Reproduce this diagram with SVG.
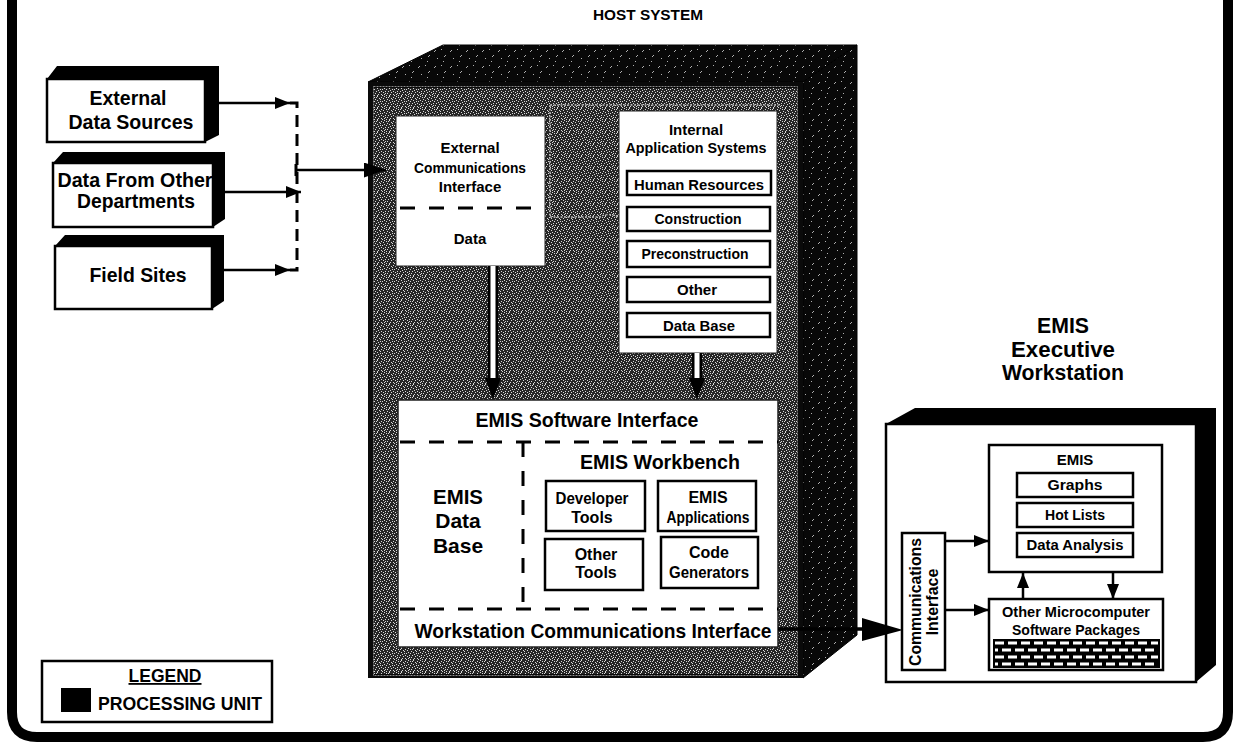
<svg xmlns="http://www.w3.org/2000/svg" width="1240" height="750" viewBox="0 0 1240 750">
<defs>
<style>
.t{font-family:"Liberation Sans",Arial,Helvetica,sans-serif;font-weight:bold;fill:#000;text-anchor:middle}
.f15{font-size:15px}.f16{font-size:16px}.f18{font-size:18px}.f20{font-size:20px}.f21{font-size:21px}.f22{font-size:22px}
.box{fill:#fff;stroke:#000;stroke-width:2.5}
.sub{fill:#fff;stroke:#000;stroke-width:2.5}
.blk{fill:#000}
.dash{fill:none;stroke:#000;stroke-width:3;stroke-dasharray:15 14}
.conn{fill:none;stroke:#000;stroke-width:2.5}
.faint{fill:none;stroke:#b4b4b4;stroke-width:1.5;stroke-dasharray:2 1.5}
</style>
<pattern id="stip" width="12" height="12" patternUnits="userSpaceOnUse">
<rect width="12" height="12" fill="#262626"/>
<path fill="#d8d8d8" d="M0 0h1v1h-1zM5 0h1v1h-1zM9 1h1v1h-1zM2 1h1v1h-1zM7 2h1v1h-1zM11 2h1v1h-1zM3 3h1v1h-1zM8 3h1v1h-1zM0 4h1v1h-1zM5 4h1v1h-1zM10 5h1v1h-1zM2 5h1v1h-1zM6 6h1v1h-1zM1 7h1v1h-1zM9 7h1v1h-1zM4 7h1v1h-1zM11 8h1v1h-1zM7 8h1v1h-1zM3 9h1v1h-1zM0 10h1v1h-1zM6 10h1v1h-1zM9 10h1v1h-1zM2 11h1v1h-1zM5 11h1v1h-1zM10 11h1v1h-1zM8 5h1v1h-1zM4 1h1v1h-1zM1 9h1v1h-1z"/>
</pattern>
<pattern id="spk" width="16" height="16" patternUnits="userSpaceOnUse">
<rect width="16" height="16" fill="#080808"/>
<path fill="#b0b0b0" d="M2 3h1v1h-1zM3 2h1v1h-1zM9 1h1v1h-1zM13 7h1v1h-1zM12 8h1v1h-1zM5 10h1v1h-1zM11 13h1v1h-1z"/>
</pattern>
<marker id="ah" markerWidth="15" markerHeight="12" refX="15" refY="6" orient="auto" markerUnits="userSpaceOnUse"><path d="M0,0 L15,6 L0,12 z" fill="#000"/></marker>
<marker id="ahm" markerWidth="22" markerHeight="15" refX="22" refY="7.5" orient="auto" markerUnits="userSpaceOnUse"><path d="M0,0 L22,7.5 L0,15 z" fill="#000"/></marker>
</defs>

<rect width="1240" height="750" fill="#fff"/>
<path d="M12,-10 V712 Q12,737 37,737 H1203 Q1228,737 1228,712 V-10" fill="none" stroke="#000" stroke-width="10"/>

<text class="t f15" x="648" y="20" textLength="110" lengthAdjust="spacingAndGlyphs">HOST SYSTEM</text>

<!-- Left source boxes -->
<g id="ext-data-sources">
<polygon class="blk" points="47,79 57,66 219,66 219,135 205,142 205,79"/>
<rect class="box" x="47" y="79" width="158" height="63" stroke-width="3"/>
<text class="t f21" x="128" y="105" textLength="77" lengthAdjust="spacingAndGlyphs">External</text>
<text class="t f21" x="131" y="129" textLength="125" lengthAdjust="spacingAndGlyphs">Data Sources</text>
</g>
<g id="data-other-depts">
<polygon class="blk" points="53,163 63,152 225,152 225,219 213,227 213,163"/>
<rect class="box" x="53" y="163" width="160" height="64" stroke-width="3"/>
<text class="t f21" x="135" y="187" textLength="155" lengthAdjust="spacingAndGlyphs">Data From Other</text>
<text class="t f21" x="136" y="208" textLength="118" lengthAdjust="spacingAndGlyphs">Departments</text>
</g>
<g id="field-sites">
<polygon class="blk" points="55,246 65,235 224,235 224,301 212,309 212,246"/>
<rect class="box" x="55" y="246" width="157" height="63" stroke-width="3"/>
<text class="t f21" x="138" y="282" textLength="97" lengthAdjust="spacingAndGlyphs">Field Sites</text>
</g>

<!-- Host system -->
<g id="host-system">
<polygon points="368,82 443,45 857,45 803,82" fill="url(#spk)" stroke="#000" stroke-width="1"/>
<polygon points="803,82 857,45 857,635 803,678" fill="url(#spk)" stroke="#000" stroke-width="1"/>
<rect x="368" y="82" width="435" height="596" fill="#0a0a0a"/>
<rect x="374" y="88" width="423" height="586" fill="url(#stip)"/>
<rect x="373.5" y="86.5" width="424" height="589" fill="none" stroke="#8a8a8a" stroke-width="1" stroke-dasharray="2 1"/>
<path class="faint" d="M550,105 H780 M550,105 V217 H600 Q608,212 619,217"/>
</g>

<g id="ext-comm-interface">
<rect x="396" y="116" width="149" height="150" fill="#fff" stroke="#222" stroke-width="1"/>
<line x1="396" y1="208" x2="545" y2="208" class="dash" stroke-dasharray="14 17" stroke-dashoffset="-4"/>
<text class="t f15" x="470" y="153">External</text>
<text class="t f15" x="470" y="173" textLength="112" lengthAdjust="spacingAndGlyphs">Communications</text>
<text class="t f15" x="470" y="192">Interface</text>
<text class="t f15" x="470" y="244">Data</text>
</g>

<g id="internal-app-systems">
<rect x="619" y="111" width="158" height="242" fill="#fff" stroke="#222" stroke-width="1"/>
<text class="t f15" x="696" y="135">Internal</text>
<text class="t f15" x="696" y="153" textLength="141" lengthAdjust="spacingAndGlyphs">Application Systems</text>
<rect class="sub" x="627" y="171" width="144" height="24"/>
<text class="t f15" x="699" y="190" textLength="130" lengthAdjust="spacingAndGlyphs">Human Resources</text>
<rect class="sub" x="627" y="207" width="143" height="24"/>
<text class="t f15" x="698" y="224" textLength="87" lengthAdjust="spacingAndGlyphs">Construction</text>
<rect class="sub" x="627" y="241" width="143" height="26"/>
<text class="t f15" x="695" y="259" textLength="107" lengthAdjust="spacingAndGlyphs">Preconstruction</text>
<rect class="sub" x="627" y="277" width="143" height="25"/>
<text class="t f15" x="697" y="295">Other</text>
<rect class="sub" x="627" y="313" width="143" height="24"/>
<text class="t f15" x="699" y="331" textLength="72" lengthAdjust="spacingAndGlyphs">Data Base</text>
</g>

<g id="emis-software-interface">
<rect x="398" y="400" width="380" height="247" fill="#fff" stroke="#222" stroke-width="1.5"/>
<text class="t f21" x="587" y="427" textLength="223" lengthAdjust="spacingAndGlyphs">EMIS Software Interface</text>
<line x1="398" y1="442" x2="778" y2="442" class="dash" stroke-dasharray="16 14" stroke-dashoffset="-2"/>
<line x1="398" y1="609" x2="778" y2="609" class="dash" stroke-dasharray="16 14" stroke-dashoffset="-2"/>
<line x1="523" y1="442" x2="523" y2="609" class="dash" stroke-dasharray="14 17"/>
<text class="t f21" x="458" y="504" textLength="50" lengthAdjust="spacingAndGlyphs">EMIS</text>
<text class="t f21" x="458" y="528">Data</text>
<text class="t f21" x="458" y="553">Base</text>
<text class="t f21" x="660" y="469" textLength="160" lengthAdjust="spacingAndGlyphs">EMIS Workbench</text>
<text class="t f21" x="593" y="638" textLength="357" lengthAdjust="spacingAndGlyphs">Workstation Communications Interface</text>
</g>

<g id="developer-tools">
<rect class="sub" x="546" y="481" width="99" height="50" stroke-width="3"/>
<text class="t f16" x="592" y="504" textLength="73" lengthAdjust="spacingAndGlyphs">Developer</text>
<text class="t f16" x="592" y="523">Tools</text>
</g>
<g id="emis-applications">
<rect class="sub" x="658" y="481" width="98" height="50" stroke-width="3"/>
<text class="t f16" x="708" y="503">EMIS</text>
<text class="t f16" x="708" y="523" textLength="83" lengthAdjust="spacingAndGlyphs">Applications</text>
</g>
<g id="other-tools">
<rect class="sub" x="545" y="539" width="98" height="51" stroke-width="3"/>
<text class="t f16" x="596" y="560">Other</text>
<text class="t f16" x="596" y="578">Tools</text>
</g>
<g id="code-generators">
<rect class="sub" x="661" y="537" width="97" height="51" stroke-width="3"/>
<text class="t f16" x="709" y="558">Code</text>
<text class="t f16" x="709" y="578" textLength="80" lengthAdjust="spacingAndGlyphs">Generators</text>
</g>

<!-- Workstation -->
<g id="workstation-title">
<text class="t f22" x="1063" y="333" textLength="52" lengthAdjust="spacingAndGlyphs">EMIS</text>
<text class="t f22" x="1063" y="357" textLength="104" lengthAdjust="spacingAndGlyphs">Executive</text>
<text class="t f22" x="1063" y="380" textLength="122" lengthAdjust="spacingAndGlyphs">Workstation</text>
</g>
<g id="executive-workstation">
<polygon class="blk" points="886,424 915,408 1216,408 1216,665 1196,682 1196,424"/>
<rect class="box" x="886" y="424" width="310" height="258"/>
</g>
<g id="emis-ws">
<rect class="sub" x="989" y="445" width="173" height="127"/>
<text class="t f15" x="1075" y="465">EMIS</text>
<rect class="sub" x="1017" y="473" width="116" height="24"/>
<text class="t f15" x="1075" y="490" textLength="55" lengthAdjust="spacingAndGlyphs">Graphs</text>
<rect class="sub" x="1017" y="503" width="116" height="24"/>
<text class="t f15" x="1075" y="520" textLength="60" lengthAdjust="spacingAndGlyphs">Hot Lists</text>
<rect class="sub" x="1017" y="533" width="116" height="24"/>
<text class="t f15" x="1075" y="550" textLength="97" lengthAdjust="spacingAndGlyphs">Data Analysis</text>
</g>
<g id="other-micro">
<rect class="sub" x="989" y="599" width="174" height="71"/>
<text class="t f15" x="1076" y="617" textLength="148" lengthAdjust="spacingAndGlyphs">Other Microcomputer</text>
<text class="t f15" x="1076" y="635" textLength="128" lengthAdjust="spacingAndGlyphs">Software Packages</text>
<rect x="993" y="639" width="167" height="29" fill="#000"/>
<g stroke="#fff" stroke-width="3" fill="none">
<line x1="995" y1="643" x2="1158" y2="643" stroke-dasharray="9 4"/>
<line x1="995" y1="650" x2="1158" y2="650" stroke-dasharray="9 4" stroke-dashoffset="6"/>
<line x1="995" y1="657" x2="1158" y2="657" stroke-dasharray="9 4"/>
<line x1="995" y1="664" x2="1158" y2="664" stroke-dasharray="9 4" stroke-dashoffset="6"/>
</g>
</g>
<g id="comm-interface">
<rect class="sub" x="902" y="533" width="43" height="137"/>
<text class="t f16" transform="translate(921,602) rotate(-90)" textLength="128" lengthAdjust="spacingAndGlyphs">Communications</text>
<text class="t f16" transform="translate(938,602) rotate(-90)">Interface</text>
</g>

<!-- Connectors -->
<g id="connectors">
<line class="conn" x1="219" y1="103" x2="290" y2="103" marker-end="url(#ah)"/>
<line class="conn" x1="225" y1="192" x2="301" y2="192" marker-end="url(#ah)"/>
<line class="conn" x1="224" y1="270" x2="290" y2="270" marker-end="url(#ah)"/>
<path d="M290,103 H297 V270 H290" fill="none" stroke="#000" stroke-width="3" stroke-dasharray="12 7"/>
<line class="conn" x1="296" y1="170" x2="386" y2="170" stroke-width="3" marker-end="url(#ahm)"/>
<line x1="296" y1="164" x2="296" y2="176" stroke="#000" stroke-width="3"/>
<line x1="493" y1="266" x2="493" y2="382" stroke="#000" stroke-width="10"/>
<line x1="493" y1="266" x2="493" y2="380" stroke="#fff" stroke-width="5"/>
<polygon class="blk" points="485,378 501,378 493,399"/>
<line x1="697" y1="353" x2="697" y2="382" stroke="#000" stroke-width="10"/>
<line x1="697" y1="353" x2="697" y2="380" stroke="#fff" stroke-width="5"/>
<polygon class="blk" points="689,378 705,378 697,399"/>
<line x1="778" y1="629" x2="866" y2="629" stroke="#000" stroke-width="3.5"/>
<polygon class="blk" points="862,618 903,630 862,641"/>
<line class="conn" x1="945" y1="541" x2="989" y2="541" marker-end="url(#ah)"/>
<line class="conn" x1="945" y1="610" x2="989" y2="610" marker-end="url(#ah)"/>
<line class="conn" x1="1023" y1="599" x2="1023" y2="573" marker-end="url(#ah)"/>
<line class="conn" x1="1113" y1="572" x2="1113" y2="599" marker-end="url(#ah)"/>
</g>

<!-- Legend -->
<g id="legend">
<rect x="42" y="661" width="230" height="61" fill="#fff" stroke="#000" stroke-width="2.5"/>
<text class="t f18" x="165" y="682" text-decoration="underline" textLength="73" lengthAdjust="spacingAndGlyphs">LEGEND</text>
<rect x="61" y="688" width="30" height="24" fill="#000"/>
<text class="t f18" x="98" y="710" style="text-anchor:start" textLength="164" lengthAdjust="spacingAndGlyphs">PROCESSING UNIT</text>
</g>
</svg>
